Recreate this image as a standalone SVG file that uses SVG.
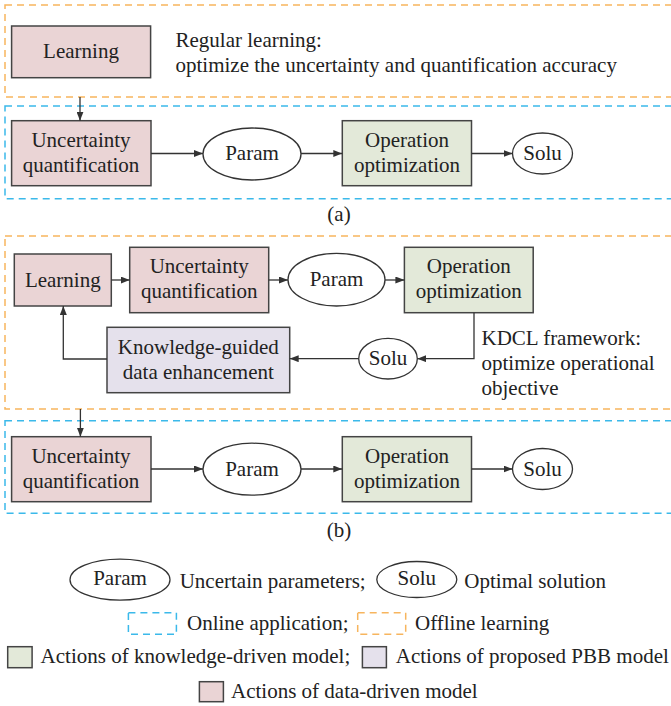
<svg xmlns="http://www.w3.org/2000/svg" width="671" height="706" viewBox="0 0 671 706">
<defs>
<marker id="ah" markerWidth="9" markerHeight="7" refX="9" refY="3.5" orient="auto" markerUnits="userSpaceOnUse"><path d="M0,0 L9,3.5 L0,7 z" fill="#333"/></marker>
<style>
.c{text-anchor:middle}
.red{fill:#ead4d5;stroke:#444;stroke-width:1.5}
.green{fill:#e3e9d9;stroke:#444;stroke-width:1.5}
.purple{fill:#e5e1ec;stroke:#444;stroke-width:1.5}
.ell{fill:#fff;stroke:#333;stroke-width:1.3}
.off{fill:none;stroke:#f7b55e;stroke-width:1.5;stroke-dasharray:7 5}
.on{fill:none;stroke:#3bb9ea;stroke-width:1.5;stroke-dasharray:7 5}
.conn line,.conn polyline{fill:none;stroke:#333;stroke-width:1.3;marker-end:url(#ah)}
</style>
</defs>
<rect width="671" height="706" fill="#fff"/>
<g font-family="'Liberation Serif', serif" font-size="21" fill="#222">

<g id="regions">
<rect class="off" x="5" y="5" width="690" height="92"/>
<rect class="on" x="5" y="106" width="690" height="92.7"/>
<rect class="off" x="5" y="236" width="690" height="173"/>
<rect class="on" x="5" y="420.7" width="690" height="92.6"/>
</g>

<g id="a-learning"><rect class="red" x="11.6" y="26" width="139" height="51.7"/><text class="c" x="81" y="58">Learning</text></g>
<g id="a-note"><text x="175.5" y="47">Regular learning:</text><text x="175.5" y="72">optimize the uncertainty and quantification accuracy</text></g>
<g id="a-uq"><rect class="red" x="11.6" y="120.7" width="139.4" height="65"/><text class="c" x="81" y="146.5">Uncertainty</text><text class="c" x="81" y="171.5">quantification</text></g>
<g id="a-param"><ellipse class="ell" cx="252" cy="154" rx="49" ry="26"/><text class="c" x="252" y="160">Param</text></g>
<g id="a-op"><rect class="green" x="342.3" y="120.7" width="129.2" height="65"/><text class="c" x="407" y="146.5">Operation</text><text class="c" x="407" y="171.5">optimization</text></g>
<g id="a-solu"><ellipse class="ell" cx="542.5" cy="153.5" rx="30" ry="20.5"/><text class="c" x="542.5" y="160">Solu</text></g>
<text class="c" x="339" y="221">(a)</text>

<g id="b-learning"><rect class="red" x="14.3" y="254" width="97" height="52"/><text class="c" x="62.8" y="286.5">Learning</text></g>
<g id="b-uq1"><rect class="red" x="129.7" y="247.3" width="139" height="65.4"/><text class="c" x="199.2" y="273.3">Uncertainty</text><text class="c" x="199.2" y="298.3">quantification</text></g>
<g id="b-param1"><ellipse class="ell" cx="336.5" cy="279.7" rx="48.5" ry="26.3"/><text class="c" x="336.5" y="286">Param</text></g>
<g id="b-op1"><rect class="green" x="404.4" y="247.3" width="128.8" height="65.4"/><text class="c" x="468.8" y="273.3">Operation</text><text class="c" x="468.8" y="298.3">optimization</text></g>
<g id="b-solu1"><ellipse class="ell" cx="388" cy="358.7" rx="29.3" ry="20.3"/><text class="c" x="388" y="365">Solu</text></g>
<g id="b-kg"><rect class="purple" x="107" y="327.3" width="182.7" height="65.4"/><text class="c" x="198.3" y="354">Knowledge-guided</text><text class="c" x="198.3" y="378.5">data enhancement</text></g>
<g id="b-note"><text x="481.5" y="345">KDCL framework:</text><text x="481.5" y="370">optimize operational</text><text x="481.5" y="395">objective</text></g>
<g id="b-uq2"><rect class="red" x="11.6" y="436.7" width="139.4" height="65"/><text class="c" x="81" y="462.5">Uncertainty</text><text class="c" x="81" y="487.5">quantification</text></g>
<g id="b-param2"><ellipse class="ell" cx="252" cy="469.2" rx="49" ry="26"/><text class="c" x="252" y="475.5">Param</text></g>
<g id="b-op2"><rect class="green" x="342.3" y="436.7" width="129.2" height="65"/><text class="c" x="407" y="462.5">Operation</text><text class="c" x="407" y="487.5">optimization</text></g>
<g id="b-solu2"><ellipse class="ell" cx="542.5" cy="469" rx="30" ry="20.5"/><text class="c" x="542.5" y="475.5">Solu</text></g>
<text class="c" x="339" y="536.7">(b)</text>

<g class="conn" id="connectors">
<line x1="80" y1="97" x2="80" y2="120.7"/>
<line x1="151" y1="153.5" x2="203" y2="153.5"/>
<line x1="301" y1="153.5" x2="342.3" y2="153.5"/>
<line x1="471.5" y1="153.5" x2="512.5" y2="153.5"/>
<line x1="111.3" y1="280" x2="129.7" y2="280"/>
<line x1="268.7" y1="280" x2="288" y2="280"/>
<line x1="385" y1="280" x2="404.4" y2="280"/>
<polyline points="474,312.7 474,358.7 417.3,358.7"/>
<line x1="358.7" y1="358.7" x2="289.7" y2="358.7"/>
<polyline points="107,359 63.3,359 63.3,306"/>
<line x1="80.4" y1="409" x2="80.4" y2="436.7"/>
<line x1="151" y1="469" x2="203" y2="469"/>
<line x1="301" y1="469" x2="342.3" y2="469"/>
<line x1="471.5" y1="469" x2="512.5" y2="469"/>
</g>

<g id="legend">
<ellipse class="ell" cx="120" cy="579.7" rx="50" ry="20.5"/><text class="c" x="120" y="585">Param</text>
<text x="179.7" y="588.3">Uncertain parameters;</text>
<ellipse class="ell" cx="416.8" cy="579.5" rx="40" ry="18"/><text class="c" x="416.8" y="585">Solu</text>
<text x="464.3" y="588.3">Optimal solution</text>
<rect class="on" x="128.4" y="612.7" width="48" height="21.6"/>
<text x="187" y="630">Online application;</text>
<rect class="off" x="357.7" y="612.7" width="48" height="21.6"/>
<text x="415" y="630">Offline learning</text>
<rect class="green" x="7.7" y="646.7" width="24.4" height="21"/>
<text x="40.6" y="663.3">Actions of knowledge-driven model;</text>
<rect class="purple" x="362.4" y="646.7" width="24" height="21"/>
<text x="395.8" y="663.3">Actions of proposed PBB model</text>
<rect class="red" x="199.4" y="681.7" width="24" height="20"/>
<text x="231" y="697.7">Actions of data-driven model</text>
</g>
</g>
</svg>
